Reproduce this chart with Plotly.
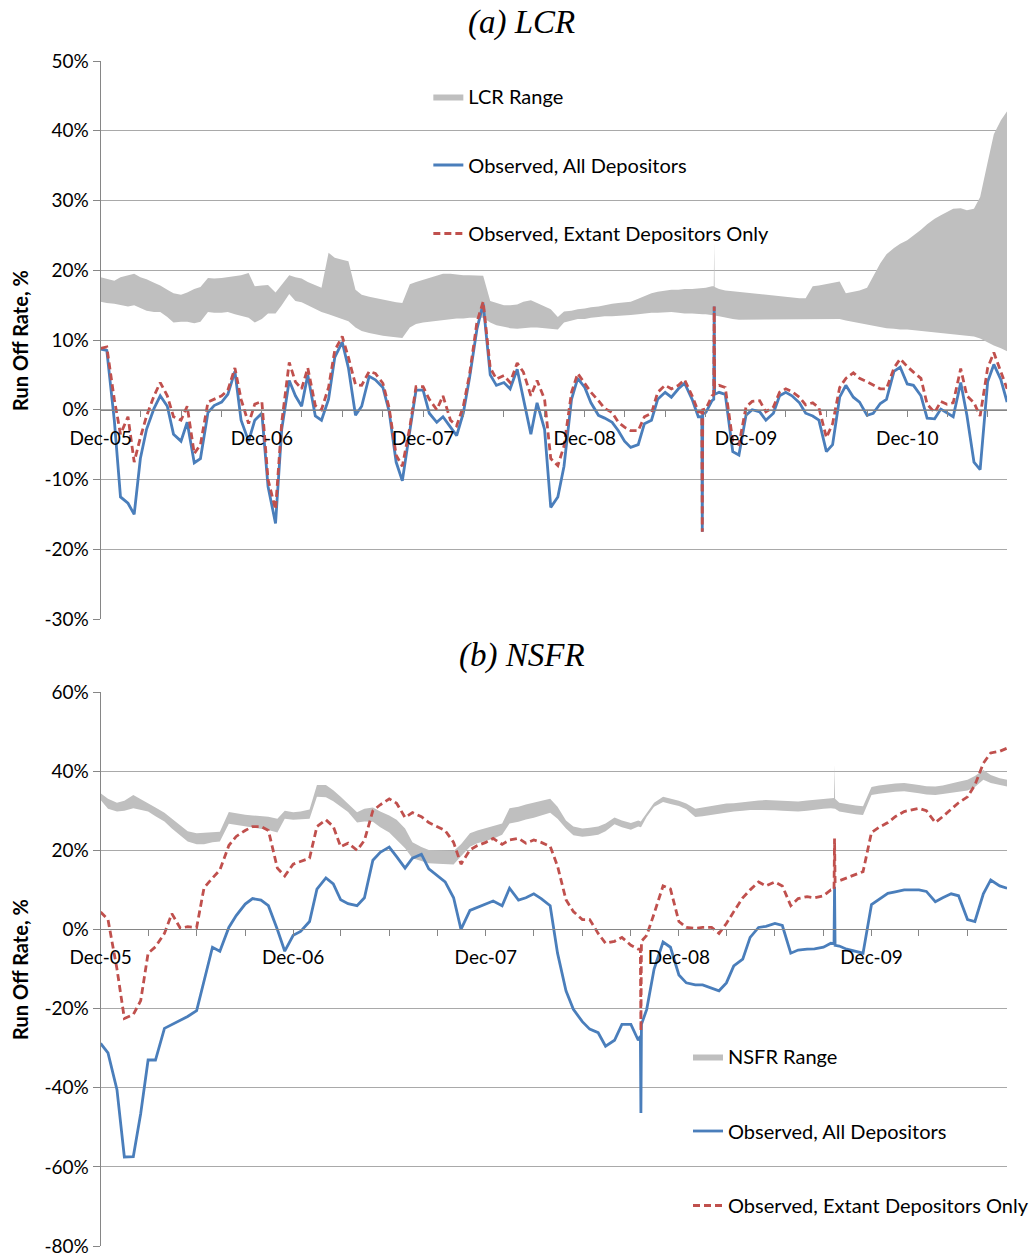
import pandas as pd
import plotly.graph_objects as go

# ---------------- DATA ----------------
# (a) LCR : semi-monthly readings, Dec-2005 .. Jul-2011 (percent)
lcr_dates = pd.date_range("2005-12-01", periods=136, freq="SMS")
lcr_all = [8.7, 8.5, -1.5, -12.5, -13.4, -15.0, -7.0, -2.8, 0.2, 2.0,
           0.5, -3.5, -4.5, -1.8, -7.6, -7.0, -0.4, 0.6, 1.1, 2.2,
           5.5, -1.5, -4.5, -1.5, -0.5, -11.0, -16.3, -2.8, 4.2, 2.0,
           0.5, 5.0, -0.9, -1.5, 1.5, 7.5, 9.7, 6.0, -0.8, 0.5,
           4.8, 4.3, 3.2, -0.2, -7.5, -10.2, -3.0, 2.8, 2.8, -0.5,
           -1.8, -1.0, -2.5, -3.7, -0.5, 4.5, 11.6, 15.2, 5.0, 3.5,
           3.9, 3.0, 5.8, 1.5, -3.5, 1.0, -2.8, -14.0, -12.5, -8.1,
           1.5, 4.5, 3.2, 1.0, -0.8, -1.2, -1.8, -3.0, -4.5, -5.4,
           -5.0, -2.0, -1.5, 1.5, 2.5, 1.8, 3.0, 3.8, 1.5, -1.0,
           -0.4, 1.3, 2.5, 2.2, -6.0, -6.5, -0.8, 0.0, -0.3, -1.5,
           -0.5, 2.0, 2.5, 2.0, 1.0, -0.5, -0.9, -1.5, -6.0, -5.0,
           1.8, 3.5, 1.8, 1.1, -0.8, -0.5, 0.9, 1.5, 5.5, 6.1,
           3.7, 3.5, 2.0, -1.2, -1.3, 0.1, -0.5, -1.0, 3.9, -0.8,
           -7.5, -8.6, 4.0, 6.5, 4.3, 1.1]
lcr_extant = [8.8, 9.0, 1.5, -3.5, -1.0, -7.5, -4.0, -0.9, 2.0, 3.9,
              2.0, -1.0, -1.5, 0.5, -6.3, -5.0, 1.1, 1.5, 2.0, 2.8,
              6.0, 1.5, -2.0, 0.8, 1.2, -10.0, -14.3, -1.8, 6.8, 4.0,
              3.0, 6.0, 0.6, 0.0, 3.2, 8.5, 10.5, 7.5, 3.6, 3.5,
              5.5, 5.2, 3.8, 0.3, -6.5, -8.1, -2.5, 3.3, 3.3, 1.5,
              0.0, 2.0, -1.5, -2.3, 0.5, 5.0, 12.6, 15.5, 6.0, 4.4,
              4.9, 3.9, 6.7, 5.4, 2.0, 4.2, 1.5, -7.0, -8.0, -5.2,
              2.5, 5.2, 3.8, 2.5, 1.3, 0.2, -0.4, -1.8, -2.5, -3.0,
              -3.0, -1.0, -0.5, 2.5, 3.5, 3.0, 3.5, 4.3, 2.0, -0.3,
              0.1, 2.0, 3.5, 3.2, -4.5, -5.0, 0.4, 1.2, 1.3, -0.3,
              0.4, 2.5, 3.0, 2.6, 1.8, 0.7, 1.0, 0.3, -4.0, -2.0,
              3.2, 4.5, 5.3, 4.5, 4.0, 3.5, 3.0, 3.0, 6.0, 7.3,
              6.2, 5.4, 4.5, 0.8, -0.4, 1.2, 0.8, 1.0, 5.9, 2.0,
              1.0, -0.9, 6.0, 8.2, 5.3, 3.0]
lcr_range_hi = [19.0, 18.8, 18.5, 19.0, 19.3, 19.5, 19.0, 18.7, 18.2, 17.8,
                17.2, 16.7, 16.5, 16.8, 17.3, 17.6, 18.9, 18.8, 18.9, 19.0,
                19.1, 19.3, 19.6, 17.7, 17.8, 17.9, 16.8, 18.0, 19.3, 19.0,
                18.8, 18.3, 17.8, 17.5, 22.5, 21.8, 21.5, 21.3, 17.2, 16.5,
                16.2, 16.0, 15.8, 15.6, 15.4, 15.3, 18.0, 18.3, 18.6, 18.9,
                19.2, 19.5, 19.5, 19.4, 19.3, 19.3, 19.3, 19.2, 15.6, 15.3,
                15.0, 15.0, 15.1, 15.5, 15.7, 15.3, 14.8, 14.4, 13.3, 14.1,
                14.2, 14.4, 14.5, 14.7, 14.8, 15.0, 15.2, 15.3, 15.4, 15.5,
                15.9, 16.3, 16.7, 16.9, 17.1, 17.2, 17.2, 17.3, 17.3, 17.4,
                17.5, 17.7, 17.3, 17.1, 17.0, 16.9, 16.8, 16.7, 16.6, 16.5,
                16.4, 16.3, 16.2, 16.1, 16.0, 16.0, 17.7, 17.8, 18.0, 18.2,
                18.4, 16.7, 16.9, 17.1, 17.5, 19.2, 21.0, 22.3, 23.2, 23.8,
                24.3, 25.0, 25.8, 26.6, 27.4, 27.9, 28.3, 28.8, 28.9, 28.6,
                28.8, 30.5, 35.5, 39.5, 41.5, 42.8]
lcr_range_lo = [15.5, 15.3, 15.2, 15.0, 14.8, 15.0, 14.6, 14.2, 14.0, 14.0,
                13.3, 12.5, 12.6, 12.6, 12.4, 12.6, 14.0, 13.9, 13.9, 14.0,
                13.7, 13.5, 13.2, 12.5, 13.0, 13.8, 13.8, 15.0, 16.6, 15.6,
                15.4, 15.0, 14.4, 14.0, 13.7, 13.4, 13.0, 12.7, 11.8, 11.3,
                11.0, 10.8, 10.6, 10.5, 10.4, 10.3, 11.8, 12.3, 12.5, 12.6,
                12.8, 12.9, 13.0, 13.1, 13.1, 13.2, 13.2, 13.2, 12.5, 12.1,
                11.9, 11.7, 11.6, 11.7, 11.8, 11.8, 11.7, 11.6, 11.5, 12.5,
                12.8, 13.0, 13.0, 13.2, 13.3, 13.4, 13.4, 13.5, 13.6, 13.6,
                13.7, 13.8, 13.9, 13.9, 14.0, 14.0, 13.9, 13.8, 13.8, 13.7,
                13.7, 13.6, 13.4, 13.2, 13.0, 12.9, 12.9, 12.9, 12.9, 12.9,
                13.0, 13.0, 13.0, 13.0, 13.0, 13.0, 13.0, 13.0, 13.0, 13.0,
                13.0, 12.8, 12.6, 12.4, 12.2, 12.0, 11.8, 11.7, 11.6, 11.5,
                11.5, 11.4, 11.3, 11.2, 11.1, 11.0, 10.9, 10.8, 10.7, 10.6,
                10.5, 10.2, 9.6, 9.2, 8.8, 8.4]
# one-day spikes (Aug/Sep 2009)
lcr_spike_dates = ["2009-08-23", "2009-08-24", "2009-08-25", "2009-09-19", "2009-09-20", "2009-09-21"]
lcr_spike_all = [-1.0, -17.5, -0.6, 1.5, 14.8, 2.2]
lcr_spike_extant = [-0.3, -17.5, 0.0, 2.2, 14.8, 3.2]
lcr_spike_hi = [17.4, 17.4, 17.5, 17.7, 24.0, 17.6]
lcr_spike_lo = [13.7, 13.7, 13.7, 13.6, 13.6, 13.5]

# (b) NSFR : semi-monthly readings, Dec-2005 .. Aug-2010 (percent)
nsfr_dates = pd.date_range("2005-12-01", periods=114, freq="SMS")
nsfr_all = [-28.8, -31.2, -40.5, -57.5, -57.4, -46.5, -33.0, -33.0, -25.0, -24.0,
            -22.8, -22.0, -20.5, -13.0, -4.5, -5.5, 0.5, 3.5, 6.4, 7.8,
            7.4, 6.0, 0.0, -5.5, -1.5, -0.5, 2.0, 10.2, 13.0, 11.5,
            7.5, 6.5, 6.0, 8.0, 17.5, 19.5, 20.8, 18.4, 15.5, 18.0,
            19.0, 15.3, 13.5, 12.0, 8.0, 0.0, 4.8, 5.5, 6.5, 7.2,
            6.0, 10.4, 7.4, 8.0, 9.0, 7.8, 6.0, -6.0, -15.5, -20.2,
            -23.3, -25.2, -26.1, -29.5, -28.0, -24.0, -24.0, -28.0, -20.2, -10.0,
            -3.2, -4.5, -11.5, -13.5, -14.0, -14.0, -14.8, -15.5, -13.5, -9.2,
            -7.5, -2.0, 0.5, 0.8, 1.5, 1.0, -6.0, -5.2, -5.0, -4.9,
            -4.5, -3.5, -4.2, -5.0, -5.5, -6.0, 6.3, 7.5, 9.1, 9.5,
            10.0, 10.0, 10.0, 9.6, 7.0, 8.0, 9.0, 8.5, 2.5, 2.0,
            9.0, 12.5, 11.0, 10.4]
nsfr_extant = [4.4, 2.5, -10.0, -22.5, -21.5, -18.0, -6.0, -4.4, -1.0, 4.0,
               0.3, 0.7, 0.5, 10.5, 13.0, 15.0, 21.2, 23.5, 25.0, 26.0,
               26.0, 25.0, 15.5, 13.5, 16.5, 17.1, 18.0, 26.0, 27.7, 26.0,
               20.9, 21.8, 20.0, 22.5, 30.0, 31.5, 33.0, 31.9, 28.3, 29.5,
               28.5, 27.0, 26.0, 25.0, 22.0, 16.5, 20.1, 21.2, 22.0, 23.0,
               21.5, 22.6, 23.0, 21.8, 22.6, 22.0, 21.0, 16.0, 7.5, 4.5,
               2.5, 2.5, -1.0, -3.5, -3.0, -2.0, -4.0, -5.0, -1.5, 4.0,
               11.0, 10.2, 2.0, 0.5, 0.3, 0.5, 0.5, -1.0, 1.5, 4.5,
               8.0, 10.0, 12.0, 11.0, 12.0, 11.0, 6.0, 7.8, 8.3, 8.0,
               8.5, 10.0, 12.3, 13.0, 14.0, 14.6, 24.5, 25.8, 27.0, 28.5,
               29.8, 30.2, 30.6, 30.0, 27.0, 28.5, 30.5, 32.0, 33.5, 36.5,
               42.0, 44.6, 45.0, 45.8]
nsfr_range_hi = [34.4, 33.0, 32.0, 32.5, 34.0, 33.0, 32.0, 30.8, 29.5, 28.0,
                 26.2, 24.8, 24.3, 24.4, 24.6, 24.7, 29.7, 29.3, 29.0, 28.8,
                 28.6, 28.5, 28.0, 30.0, 29.6, 29.8, 30.3, 36.5, 36.5, 35.2,
                 33.5, 31.8, 29.6, 30.5, 30.8, 29.8, 28.8, 27.7, 25.5, 22.0,
                 20.8, 20.1, 20.0, 19.9, 19.8, 21.5, 24.3, 25.0, 25.6, 26.2,
                 26.8, 30.6, 31.0, 31.6, 32.0, 32.5, 33.0, 31.0, 27.5, 26.0,
                 25.5, 25.7, 26.0, 26.8, 28.3, 27.5, 26.9, 27.5, 29.4, 32.0,
                 33.5, 33.0, 32.5, 31.8, 30.5, 30.8, 31.2, 31.5, 31.8, 31.9,
                 32.2, 32.5, 32.6, 32.7, 32.6, 32.5, 32.4, 32.3, 32.6, 32.8,
                 33.0, 33.2, 32.0, 31.6, 31.3, 31.1, 36.0, 36.4, 36.7, 36.9,
                 37.0, 36.8, 36.5, 36.2, 36.1, 36.4, 36.8, 37.3, 37.8, 38.8,
                 40.3, 39.0, 38.2, 37.8]
nsfr_range_lo = [32.7, 30.5, 29.8, 30.0, 30.6, 30.2, 29.8, 28.6, 27.3, 25.5,
                 23.7, 22.2, 21.5, 21.5, 22.0, 22.2, 26.7, 26.4, 26.0, 25.7,
                 25.4, 25.1, 24.5, 28.0, 27.7, 27.8, 28.0, 33.5, 33.4, 32.4,
                 31.0, 29.7, 27.0, 27.3, 27.2, 25.8, 24.5, 22.6, 20.5, 18.0,
                 17.2, 16.7, 16.6, 16.5, 16.4, 18.5, 20.9, 21.8, 22.4, 22.9,
                 23.9, 26.8, 27.2, 27.8, 28.2, 28.8, 29.5, 28.0, 25.5, 23.8,
                 23.4, 23.6, 23.9, 24.8, 26.6, 25.8, 25.2, 26.0, 28.5, 31.0,
                 32.2, 31.7, 31.2, 30.4, 28.4, 28.6, 29.0, 29.3, 29.6, 29.8,
                 30.0, 30.2, 30.2, 30.2, 30.1, 30.0, 29.9, 29.8, 30.0, 30.3,
                 30.5, 30.6, 29.8, 29.4, 29.1, 28.9, 34.0, 34.3, 34.6, 34.8,
                 34.9, 34.7, 34.4, 34.1, 34.0, 34.2, 34.5, 34.8, 35.1, 36.0,
                 37.8, 37.0, 36.5, 36.1]
nsfr_spike_dates = ["2008-09-19", "2008-09-20", "2008-09-21", "2009-09-21", "2009-09-22", "2009-09-23"]
nsfr_spike_all = [-27.0, -46.4, -24.0, -3.6, 10.8, -4.0]
nsfr_spike_extant = [-5.0, -25.7, -3.0, 10.0, 23.0, 12.1]
nsfr_spike_hi = [27.3, 27.3, 27.5, 33.2, 41.6, 33.0]
nsfr_spike_lo = [25.8, 25.8, 26.0, 30.6, 30.6, 30.5]

lcr_ticks = [-30, -20, -10, 0, 10, 20, 30, 40, 50]
lcr_ticktext = ["-30%", "-20%", "-10%", "0%", "10%", "20%", "30%", "40%", "50%"]
nsfr_ticks = [-80, -60, -40, -20, 0, 20, 40, 60]
nsfr_ticktext = ["-80%", "-60%", "-40%", "-20%", "0%", "20%", "40%", "60%"]

series_names = ["Observed, All Depositors", "Observed, Extant Depositors Only"]


def merge(dates, cols, sdates, scols):
    df = pd.DataFrame({"date": list(dates) + list(pd.to_datetime(sdates))})
    for k in cols:
        df[k] = list(cols[k]) + list(scols[k])
    return df.sort_values("date").reset_index(drop=True)


lcr = merge(lcr_dates, {"all": lcr_all, "ext": lcr_extant, "hi": lcr_range_hi, "lo": lcr_range_lo},
            lcr_spike_dates, {"all": lcr_spike_all, "ext": lcr_spike_extant, "hi": lcr_spike_hi, "lo": lcr_spike_lo})
nsfr = merge(nsfr_dates, {"all": nsfr_all, "ext": nsfr_extant, "hi": nsfr_range_hi, "lo": nsfr_range_lo},
             nsfr_spike_dates, {"all": nsfr_spike_all, "ext": nsfr_spike_extant, "hi": nsfr_spike_hi, "lo": nsfr_spike_lo})

# ---------------- STYLE ----------------
W, H = 1034, 1256
FONT = "Lato"
GRAY_FILL = "#bfbfbf"
BLUE = "#4a7ebb"
RED = "#c0504d"
AXIS = "#868686"
GRID = "#a9a9a9"


def px(xp):
    return xp / W


def py(yp):
    return 1 - yp / H


x_dom = [px(101), px(1011)]
top_dom = [py(619), py(61)]
bot_dom = [py(1246), py(692)]

fig = go.Figure()


def add_panel(df, xa, ya, leg, range_name):
    fig.add_trace(go.Scatter(x=df["date"], y=df["lo"], mode="lines", line=dict(width=0, color=GRAY_FILL),
                             showlegend=False, legendgroup=leg + "r", legend=leg, hoverinfo="skip",
                             xaxis=xa, yaxis=ya))
    fig.add_trace(go.Scatter(x=df["date"], y=df["hi"], mode="lines", line=dict(width=0, color=GRAY_FILL),
                             fill="tonexty", fillcolor=GRAY_FILL, name=range_name,
                             legendgroup=leg + "r", legend=leg, xaxis=xa, yaxis=ya))
    fig.add_trace(go.Scatter(x=df["date"], y=df["all"], mode="lines", line=dict(width=2.8, color=BLUE),
                             name=series_names[0], legendgroup=leg + "a", legend=leg, xaxis=xa, yaxis=ya))
    fig.add_trace(go.Scatter(x=df["date"], y=df["ext"], mode="lines",
                             line=dict(width=2.8, color=RED, dash="7px,4px"),
                             name=series_names[1], legendgroup=leg + "e", legend=leg, xaxis=xa, yaxis=ya))


add_panel(lcr, "x", "y", "legend", "LCR Range")
add_panel(nsfr, "x2", "y2", "legend2", "NSFR Range")


def zero_pos(dom, ticks):
    lo, hi = min(ticks), max(ticks)
    return dom[0] + (0 - lo) / (hi - lo) * (dom[1] - dom[0])


def xaxis_cfg(df, dom_y, ticks):
    return dict(type="date", domain=x_dom, range=[df["date"].iloc[0], df["date"].iloc[-1]],
                anchor="free", position=zero_pos(dom_y, ticks),
                showline=True, linecolor=AXIS, linewidth=1,
                ticks="outside", ticklen=6, tickcolor=AXIS, tickwidth=1,
                dtick="M12", tick0="2005-12-01", tickformat="%b-%y",
                minor=dict(dtick="M3", tick0="2005-12-01", ticks="outside", ticklen=6,
                           tickcolor=AXIS, showgrid=False),
                ticklabelstandoff=5, ticklabeloverflow="allow",
                showgrid=False, zeroline=False, automargin=False,
                tickfont=dict(family=FONT, size=19, color="black"))


def yaxis_cfg(dom, ticks, text, xname):
    return dict(domain=dom, range=[min(ticks), max(ticks)], anchor=xname,
                tickvals=ticks, ticktext=text, ticklabeloverflow="allow",
                showline=True, linecolor=AXIS, linewidth=1,
                ticks="outside", ticklen=7, tickcolor=AXIS,
                showgrid=True, gridcolor=GRID, gridwidth=1, zeroline=False, automargin=False,
                tickfont=dict(family=FONT, size=19, color="black"))


legend_common = dict(xanchor="left", yanchor="top", bgcolor="rgba(0,0,0,0)",
                     font=dict(family=FONT, size=20, color="black"), traceorder="grouped",
                     itemwidth=30)

fig.update_layout(
    width=W, height=H, template="none",
    paper_bgcolor="white", plot_bgcolor="white",
    margin=dict(l=0, r=0, t=0, b=0),
    xaxis=xaxis_cfg(lcr, top_dom, lcr_ticks),
    yaxis=yaxis_cfg(top_dom, lcr_ticks, lcr_ticktext, "x"),
    xaxis2=xaxis_cfg(nsfr, bot_dom, nsfr_ticks),
    yaxis2=yaxis_cfg(bot_dom, nsfr_ticks, nsfr_ticktext, "x2"),
    legend=dict(legend_common, x=px(430), y=py(77), tracegroupgap=39.5),
    legend2=dict(legend_common, x=px(691), y=py(1037), tracegroupgap=45.5),
    showlegend=True,
)

title_font = dict(family="Liberation Serif", size=33, color="black")
fig.add_annotation(text="<i>(a) LCR</i>", x=px(524), y=py(23), xref="paper", yref="paper",
                   showarrow=False, font=title_font, xanchor="center", yanchor="middle")
fig.add_annotation(text="<i>(b) NSFR</i>", x=px(524), y=py(655), xref="paper", yref="paper",
                   showarrow=False, font=title_font, xanchor="center", yanchor="middle")
ytitle_font = dict(family=FONT, size=20, color="black")
for dom in (top_dom, bot_dom):
    fig.add_annotation(text="<b>Run Off Rate, %</b>", x=px(20), y=(dom[0] + dom[1]) / 2,
                       xref="paper", yref="paper", showarrow=False, textangle=-90,
                       font=ytitle_font, xanchor="center", yanchor="middle")

# remove the default 8px page margin so the figure sits at the window's top-left corner
fig.write_html("out.html", config={"displayModeBar": False},
               post_script="document.body.style.margin='0';")
